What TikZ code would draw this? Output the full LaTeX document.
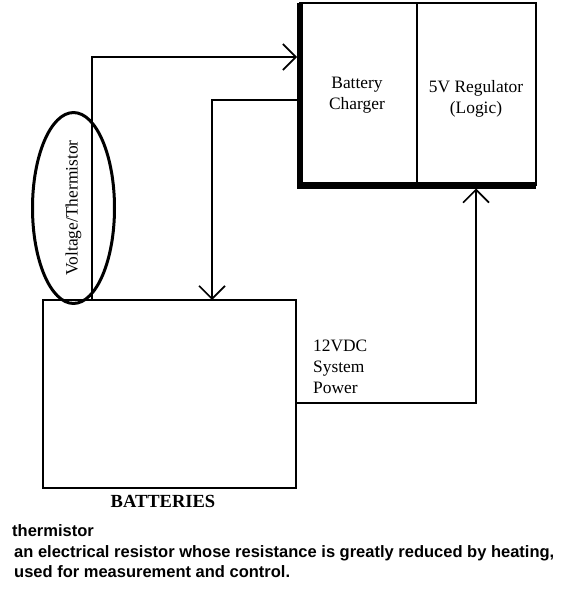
\documentclass[tikz,border=0pt]{standalone}
\usepackage{fontspec}
\setmainfont{Liberation Serif}
\newfontfamily\sansf{Liberation Sans}
\usetikzlibrary{arrows.meta,shapes.geometric}
\begin{document}
\begin{tikzpicture}[x=1pt,y=-1pt,
  box/.style={draw, line width=1.6pt, inner sep=0pt, outer sep=0pt, anchor=north west},
  thickedge/.style={line width=6.5pt, line join=miter},
  arr/.style={line width=1.6pt, -{Straight Barb[length=13pt,width=26pt,line width=1.6pt]}},
  serif/.style={font=\fontsize{17.4}{20.8}\selectfont, inner sep=0pt},
  sanstext/.style={font=\sansf\bfseries\fontsize{16.5}{20.7}\selectfont, inner sep=0pt, align=left}]
\useasboundingbox (0,0) rectangle (565,599);
% boxes
\node[box, minimum width=117pt, minimum height=182.5pt] (chg) at (300,3) {};
\node[box, minimum width=119pt, minimum height=182.5pt] (reg) at (417,3) {};
\node[box, minimum width=253pt, minimum height=188pt] (bat) at (43,300) {};
% ellipse with rotated label
\node[draw, ellipse, line width=3pt, rotate=90, inner sep=0pt,
      minimum width=161pt, minimum height=82pt,
      font=\fontsize{17.4}{20.8}\selectfont] (vt) at (73.5,208) {Voltage/Thermistor};
% connectors
\coordinate (v1) at (92,57);
\coordinate (c2) at (212,100);
\coordinate (c3) at (476,403);
\draw[arr, shorten >=3pt] (bat.north -| v1) -- (v1) -- (v1 -| chg.west);
\draw[arr] (chg.west |- c2) -- (c2) -- (c2 |- bat.north);
\draw[arr, shorten >=3pt] (bat.east |- c3) -- (c3) -- (c3 |- reg.south);
% thick edges of the charger/regulator block
\draw[thickedge] (chg.north west) -- (chg.south west) -- (reg.south east);
% texts
\node[serif, align=center] (tchg) at (357,95) {Battery\\Charger};
\node[serif, align=center] (treg) at (476,98.7) {5V Regulator\\(Logic)};
\node[serif, align=left, anchor=north west] (tsys) at (313,340) {12VDC\\System\\Power};
\node[font=\bfseries\fontsize{18.5}{22}\selectfont, inner sep=0pt] (tbat) at (163,501.7) {BATTERIES};
\node[sanstext, anchor=north west] (defn) at (12,524.2) {thermistor\\\hspace*{2pt}an electrical resistor whose resistance is greatly reduced by heating,\\\hspace*{2pt}used for measurement and control.};
\end{tikzpicture}
\end{document}
